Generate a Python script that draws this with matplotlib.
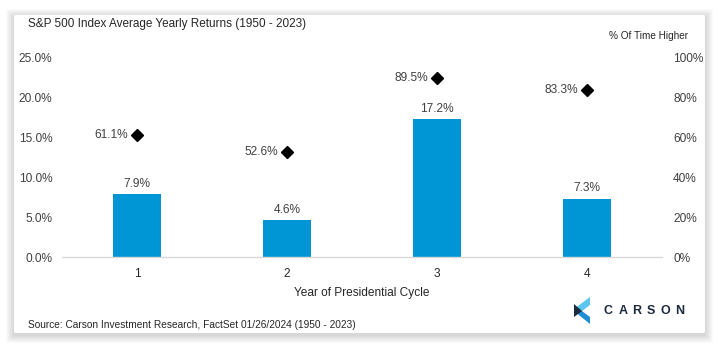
import matplotlib
matplotlib.use("Agg")
import matplotlib.pyplot as plt
from matplotlib.patches import FancyBboxPatch, Polygon
from matplotlib.ticker import FuncFormatter

plt.rcParams['font.family'] = ['Liberation Sans', 'DejaVu Sans']

categories = ["1", "2", "3", "4"]
avg_returns = [7.9, 4.6, 17.2, 7.3]
pct_higher = [61.1, 52.6, 89.5, 83.3]
left_ticks = [0, 5, 10, 15, 20, 25]
right_ticks = [0, 20, 40, 60, 80, 100]

TXT = '#404040'
BAR = '#0096D6'

fig = plt.figure(figsize=(7.2, 3.5), dpi=100)
fig.patch.set_facecolor('white')

# card shadow + card
W, H = 720, 350
x0, x1, y0, y1 = 14 / W, 705 / W, 1 - 333 / H, 1 - 15 / H
for i in range(8):
    g = (8 - i) * 1.0
    fig.patches.append(FancyBboxPatch((x0 - g / W, y0 - (g + 2) / H),
                                      (x1 - x0) + 2 * g / W, (y1 - y0) + (2 * g) / H,
                                      boxstyle="round,pad=0,rounding_size=0.006",
                                      transform=fig.transFigure, fc='#000000', ec='none',
                                      alpha=0.018, zorder=0))
fig.patches.append(FancyBboxPatch((x0, y0), x1 - x0, y1 - y0,
                                  boxstyle="round,pad=0,rounding_size=0.003",
                                  transform=fig.transFigure, fc='white', ec='none', zorder=1))

ax = fig.add_axes([62 / W, 1 - 257 / H, 600 / W, 200 / H])
ax.set_zorder(2)
ax.patch.set_visible(False)
xs = list(range(len(categories)))
bars = ax.bar(xs, avg_returns, width=0.32, color=BAR, zorder=2)
ax.set_xlim(-0.5, len(categories) - 0.5)
ax.set_ylim(0, 25)
ax.set_yticks(left_ticks)
ax.yaxis.set_major_formatter(FuncFormatter(lambda v, p: f"{v:.1f}%"))
ax.set_xticks(xs)
ax.set_xticklabels(categories)
for s in ['top', 'right', 'left']:
    ax.spines[s].set_visible(False)
ax.spines['bottom'].set_color('#d9d9d9')
ax.spines['bottom'].set_linewidth(1.0)
ax.tick_params(axis='both', length=0, colors=TXT, labelsize=8.6)
ax.tick_params(axis='x', pad=8, labelcolor='#262626')
ax.tick_params(axis='y', pad=7)
ax.set_xlabel("Year of Presidential Cycle", fontsize=8.6, color='#262626', labelpad=5)

for x, v in zip(xs, avg_returns):
    ax.annotate(f"{v:.1f}%", (x, v), xytext=(0, 3), textcoords='offset points',
                ha='center', va='bottom', fontsize=8.6, color=TXT)

ax2 = ax.twinx()
ax2.set_ylim(0, 100)
ax2.set_yticks(right_ticks)
ax2.yaxis.set_major_formatter(FuncFormatter(lambda v, p: f"{v:.0f}%"))
for s in ['top', 'right', 'left', 'bottom']:
    ax2.spines[s].set_visible(False)
ax2.tick_params(axis='y', length=0, colors=TXT, labelsize=8.6, pad=8)
ax2.plot(xs, pct_higher, linestyle='none', marker='D', markersize=6.3,
         color='black', zorder=3)
for x, v in zip(xs, pct_higher):
    ax2.annotate(f"{v:.1f}%", (x, v), xytext=(-6.5, 0), textcoords='offset points',
                 ha='right', va='center', fontsize=8.6, color=TXT)

fig.text(28 / W, 1 - 24 / H, "S&P 500 Index Average Yearly Returns (1950 - 2023)",
         fontsize=8.5, color='#262626', ha='left', va='center', zorder=3)
fig.text(688 / W, 1 - 36 / H, "% Of Time Higher", fontsize=7.2, color='#262626',
         ha='right', va='center', zorder=3)
fig.text(28 / W, 1 - 325 / H,
         "Source: Carson Investment Research, FactSet 01/26/2024 (1950 - 2023)",
         fontsize=7.3, color='#262626', ha='left', va='center', zorder=3)

# Carson logo
def P(pts, c):
    fig.patches.append(Polygon([(px / W, 1 - py / H) for px, py in pts], closed=True,
                               transform=fig.transFigure, fc=c, ec='none', zorder=3))
P([(590, 297), (590, 305), (582, 311), (574, 311), (574, 309)], '#5BC4F1')
P([(574, 311), (582, 311), (590, 317), (590, 324)], '#1E8FD6')
P([(574, 304), (582, 311), (574, 317)], '#1B2A3F')
for i, ch in enumerate("CARSON"):
    fig.text((604 + i * 14.2) / W, 1 - 310.5 / H, ch, fontsize=9, color='#1B2A3F',
             ha='left', va='center', fontweight='bold', zorder=3)

fig.savefig("out.png", dpi=100, facecolor='white')
